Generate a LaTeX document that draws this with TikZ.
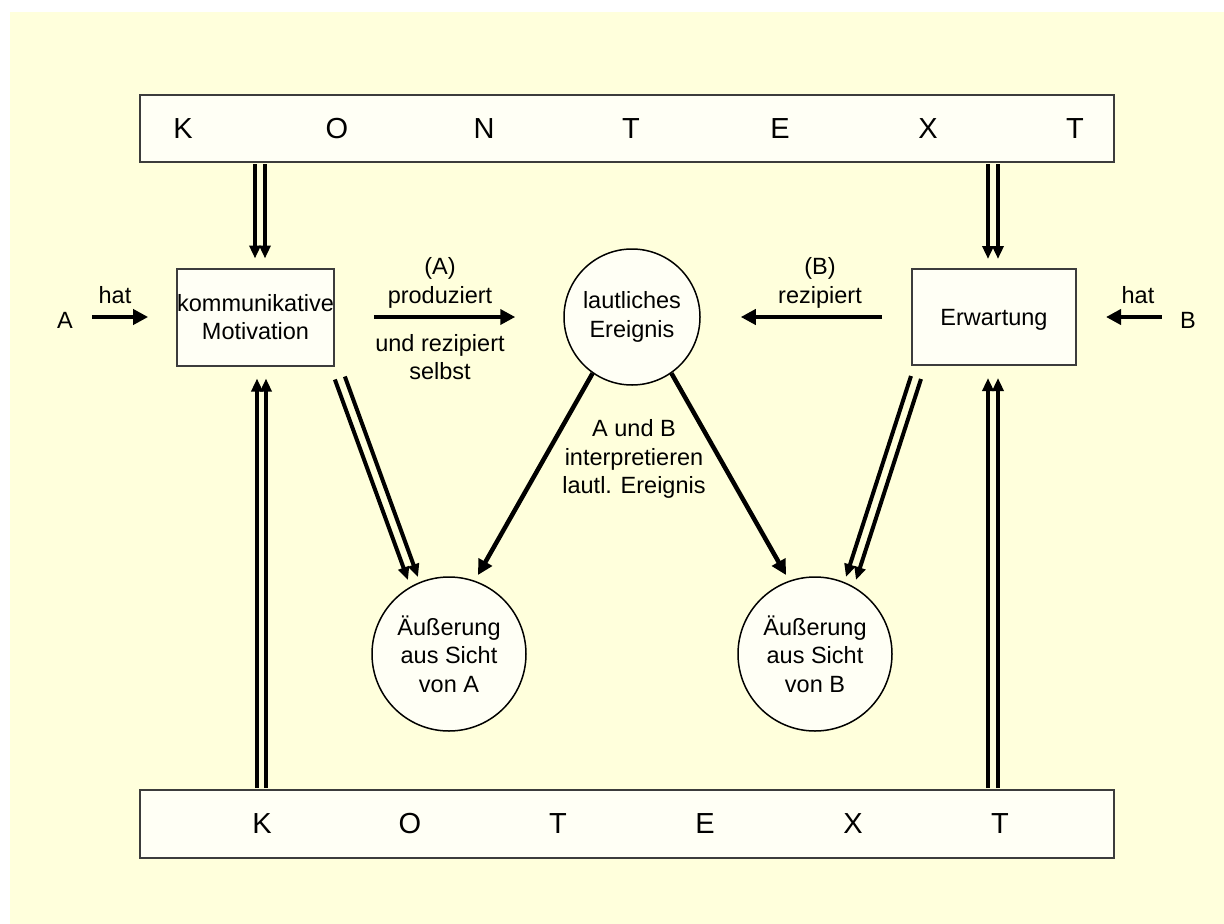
\documentclass[tikz,border=0pt]{standalone}
\usepackage{fontspec}
\setmainfont{Liberation Sans}
\usetikzlibrary{arrows.meta,calc}
\definecolor{bgyellow}{RGB}{255,255,220}
\definecolor{boxfill}{RGB}{255,255,245}
\definecolor{boxline}{RGB}{60,60,60}
\begin{document}
\begin{tikzpicture}[x=1pt,y=-1pt,
  txt/.style={font=\fontsize{23.5}{28.5}\selectfont, align=center, inner sep=0pt},
  big/.style={font=\fontsize{29}{34}\selectfont, inner sep=0pt},
  rbox/.style={draw=boxline, line width=2pt, fill=boxfill, inner sep=0pt},
  circ/.style={circle, draw=black, line width=1.5pt, fill=boxfill, inner sep=0pt},
  arr/.style={line width=4.5pt, -{Triangle[length=15pt,width=15pt]}},
  darr/.style={line width=4pt, -{Triangle[length=13pt,width=11pt]}},
]
\fill[white] (0,0) rectangle (1224,924);
\fill[bgyellow] (10,12) rectangle (1224,924);
\useasboundingbox (0,0) rectangle (1224,924);

% boxes
\node[rbox, minimum width=974pt, minimum height=67pt] (kontext) at (627,128.5) {};
\node[rbox, minimum width=974pt, minimum height=68pt] (kotext) at (627,824) {};
\node[rbox, txt, minimum width=155pt, minimum height=97pt] (mot) at (255.5,317) {kommunikative\\Motivation};
\node[rbox, txt, minimum width=164pt, minimum height=96pt] (erw) at (994,317) {\raisebox{-3pt}[\height][\depth]{Erwartung}};
\node[circ, txt, minimum size=136pt] (laut) at (632,317) {lautliches\\Ereignis};
\node[circ, txt, minimum size=154pt] (uA) at (449,654) {Äußerung\\aus Sicht\\von A};
\node[circ, txt, minimum size=154pt] (uB) at (815,654) {Äußerung\\aus Sicht\\von B};

% letters
\foreach \l/\x [count=\i] in {K/183,O/337,N/484,T/631,E/780,X/928,T/1075}
  \node[big] (kl\i) at (\x,128.5) {\l};
\foreach \l/\x [count=\i] in {K/262,O/410,T/558,E/705,X/853,T/1000}
  \node[big] (ko\i) at (\x,824) {\l};

% labels
\node[txt] (lA) at (65,320) {A};
\node[txt] (hatA) at (115,295) {hat};
\node[txt] (prodA) at (440,283) {(A)\\produziert};
\node[txt] (selbst) at (440,357) {und rezipiert\\selbst};
\node[txt] (rezB) at (820,283) {(B)\\rezipiert};
\node[txt] (interp) at (634,459) {A und B\\interpretieren\\lautl. Ereignis};
\node[txt] (hatB) at (1138,295) {hat};
\node[txt] (lB) at (1188,320) {B};

% vertical double arrows
\draw[darr] ($(kontext.south -| mot.north)+(-0.5,1)$) -- ($(mot.north)+(-0.5,-9)$);
\draw[darr] ($(kontext.south -| mot.north)+(9.5,1)$) -- ($(mot.north)+(9.5,-9)$);
\draw[darr] ($(kontext.south -| erw.north)+(-6,1)$) -- ($(erw.north)+(-6,-9)$);
\draw[darr] ($(kontext.south -| erw.north)+(4,1)$) -- ($(erw.north)+(4,-9)$);
\draw[darr] ($(kotext.north -| mot.south)+(1.5,-1)$) -- ($(mot.south)+(1.5,12)$);
\draw[darr] ($(kotext.north -| mot.south)+(10.5,-1)$) -- ($(mot.south)+(10.5,12)$);
\draw[darr] ($(kotext.north -| erw.south)+(-6,-1)$) -- ($(erw.south)+(-6,12)$);
\draw[darr] ($(kotext.north -| erw.south)+(4,-1)$) -- ($(erw.south)+(4,12)$);

% diagonal double arrows
\draw[darr] ($(mot.south east)+(0,13)$) -- ($(uA.center)+(-41,-74)$);
\draw[darr] ($(mot.south east)+(10,10)$) -- ($(uA.center)+(-31,-77)$);
\draw[darr] ($(erw.south west)+(0,10)$) -- ($(uB.center)+(31,-77)$);
\draw[darr] ($(erw.south west)+(10,13)$) -- ($(uB.center)+(41,-74)$);

% single arrows
\draw[arr] (laut.235) -- ($(uA.center)+(29,-79)$);
\draw[arr] (laut.305) -- ($(uB.center)+(-29,-79)$);
\draw[arr] ($(mot.east)+(39,0)$) -- ($(laut.west)+(-48,0)$);
\draw[arr] ($(erw.west)+(-29,0)$) -- ($(laut.east)+(40,0)$);
\draw[arr] ($(lA.east |- mot.west)+(19,0)$) -- ($(mot.west)+(-28,0)$);
\draw[arr] ($(lB.west |- erw.east)+(-18,0)$) -- ($(erw.east)+(29,0)$);
\end{tikzpicture}
\end{document}
